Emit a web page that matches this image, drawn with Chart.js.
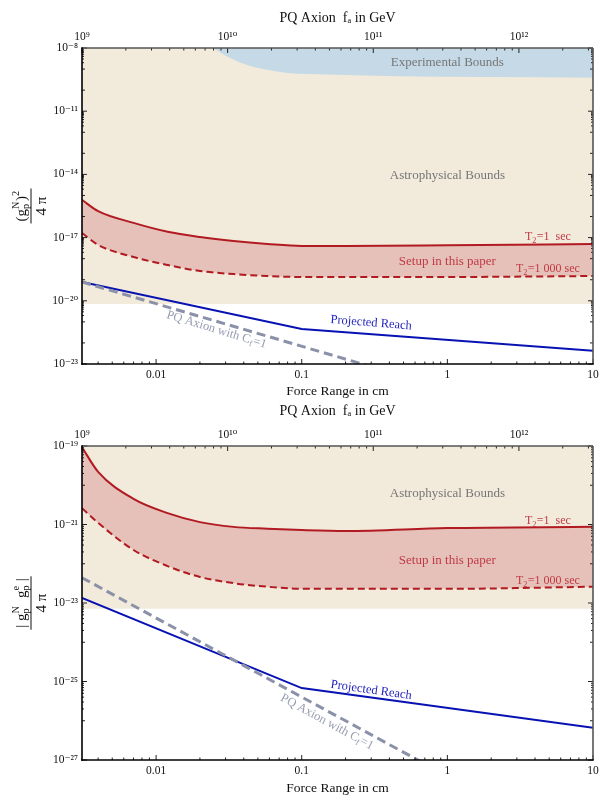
<!DOCTYPE html>
<html><head><meta charset="utf-8">
<script src="https://cdn.jsdelivr.net/npm/chart.js@4.4.1/dist/chart.umd.min.js"></script>
<style>
html,body{margin:0;padding:0;background:#fff;}
#wrap{position:relative;width:600px;height:800px;}
canvas{position:absolute;left:0;}
</style></head><body>
<div id="wrap">
<canvas id="c1" width="600" height="400" style="top:0"></canvas>
<canvas id="c2" width="600" height="400" style="top:400px"></canvas>
</div>
<script>
// ---------------- DATA ----------------
const xMin = 0.0031, xMax = 10;            // force range in cm
const faMin = 1e9, faMax = 1e9 * xMax / xMin; // PQ axion f_a in GeV (top axis)

const rangeCm = [0.0031, 0.004, 0.007, 0.012, 0.02, 0.034, 0.058, 0.1, 0.2, 1, 10];

// Top panel: (g_p^N)^2 / 4pi
const topT1 = [6.2e-16, 1.8e-16, 5.0e-17, 1.9e-17, 1.07e-17, 6.9e-18, 5.0e-18, 4.0e-18, 4.0e-18, 4.3e-18, 5.0e-18];
const topT1000 = [1.66e-17, 4.5e-18, 1.2e-18, 5.0e-19, 2.6e-19, 1.86e-19, 1.5e-19, 1.35e-19, 1.35e-19, 1.35e-19, 1.5e-19];
const topReachX = [0.0031, 0.1, 10];
const topReachY = [7.8e-20, 4.6e-22, 4.2e-23];
const topPQX = [0.0031, 1];
const topPQY = [7.8e-20, 6.6e-25];
const topExpX = [0.0246, 0.0322, 0.0442, 0.0597, 0.0805, 0.149, 0.373, 10];
const topExpY = [1e-8, 3.35e-9, 1.4e-9, 9.0e-10, 6.5e-10, 5.5e-10, 4.7e-10, 3.9e-10];
const topAstroFloor = 7e-21;

// Bottom panel: |g_p^N g_p^e| / 4pi
const botT1 = [9.3e-20, 2.2e-20, 4.5e-21, 1.95e-21, 1.15e-21, 8.7e-22, 7.8e-22, 7.2e-22, 6.8e-22, 8.1e-22, 8.7e-22];
const botT1000 = [2.6e-21, 1.1e-21, 2.24e-22, 8.7e-23, 4.6e-23, 3.2e-23, 2.6e-23, 2.3e-23, 2.3e-23, 2.3e-23, 2.6e-23];
const botReachX = [0.0031, 0.1, 10];
const botReachY = [1.35e-23, 6.8e-26, 6.6e-27];
const botPQX = [0.0031, 1];
const botPQY = [4.4e-23, 3.9e-28];
const botAstroFloor = 7.1e-24;

// Ticks
const xTickVals = [0.01, 0.1, 1, 10];
const xTickLabels = ['0.01', '0.1', '1', '10'];
const faTickVals = [1e9, 1e10, 1e11, 1e12];
const faTickLabels = ['10⁹', '10¹⁰', '10¹¹', '10¹²'];
const topYMin = 1e-23, topYMax = 1e-8;
const topYTickVals = [1e-23, 1e-20, 1e-17, 1e-14, 1e-11, 1e-8];
const topYTickLabels = ['10⁻²³', '10⁻²⁰', '10⁻¹⁷', '10⁻¹⁴', '10⁻¹¹', '10⁻⁸'];
const botYMin = 1e-27, botYMax = 1e-19;
const botYTickVals = [1e-27, 1e-25, 1e-23, 1e-21, 1e-19];
const botYTickLabels = ['10⁻²⁷', '10⁻²⁵', '10⁻²³', '10⁻²¹', '10⁻¹⁹'];

// ---------------- STYLE ----------------
const FONT = "'Liberation Serif','DejaVu Serif',serif";
const C = {
  beige: 'rgb(242,235,220)', expBlue: 'rgb(197,217,230)', band: 'rgb(229,193,185)',
  red: 'rgb(178,26,34)', blue: 'rgb(8,18,178)', gray: 'rgb(138,145,168)',
  noteGray: 'rgb(118,118,118)', noteRed: 'rgb(192,58,70)', noteBlue: 'rgb(30,30,190)', noteGrayBlue: 'rgb(150,156,176)'
};

const zip = (xs, ys) => xs.map((x, i) => ({x, y: ys[i]}));

function rich(ctx, segs, size, x, y, draw) {
  let cx = x;
  for (const s of segs) {
    if (s.t !== undefined) {
      ctx.font = `${size}px ${FONT}`;
      if (draw) ctx.fillText(s.t, cx, y);
      cx += ctx.measureText(s.t).width;
    } else {
      const ss = size * 0.68;
      ctx.font = `${ss}px ${FONT}`;
      let w = 0;
      if (s.sub !== undefined) { if (draw) ctx.fillText(s.sub, cx, y + size * 0.3); w = Math.max(w, ctx.measureText(s.sub).width); }
      if (s.sup !== undefined) { if (draw) ctx.fillText(s.sup, cx, y - size * 0.4); w = Math.max(w, ctx.measureText(s.sup).width); }
      cx += w + 0.5;
    }
  }
  return cx - x;
}

const framePlugin = {
  id: 'frameTicks',
  afterDatasetsDraw(chart) {
    const {ctx, chartArea: a} = chart;
    const sx = chart.scales.x, st = chart.scales.xTop, sy = chart.scales.y;
    ctx.save();
    ctx.strokeStyle = '#222';
    ctx.lineWidth = 1;
    const line = (x1, y1, x2, y2) => { ctx.beginPath(); ctx.moveTo(x1, y1); ctx.lineTo(x2, y2); ctx.stroke(); };
    // y ticks (left and right)
    const yMajors = sy.ticks.map(t => Math.round(Math.log10(t.value)));
    const e0 = Math.round(Math.log10(sy.min)), e1 = Math.round(Math.log10(sy.max));
    for (let e = e0; e <= e1; e++) {
      const p = sy.getPixelForValue(Math.pow(10, e));
      const len = yMajors.includes(e) ? 5 : 3;
      line(a.left, p, a.left + len, p); line(a.right, p, a.right - len, p);
      if (yMajors.includes(e + 1)) {
        for (let m = 2; m <= 9; m++) {
          const q = sy.getPixelForValue(m * Math.pow(10, e));
          line(a.left, q, a.left + 2, q); line(a.right, q, a.right - 2, q);
        }
      }
    }
    // x ticks bottom / top
    const drawX = (sc, yEdge, dir) => {
      const majors = sc.ticks.map(t => Math.round(Math.log10(t.value)));
      const f0 = Math.floor(Math.log10(sc.min)), f1 = Math.ceil(Math.log10(sc.max));
      for (let e = f0; e <= f1; e++) {
        for (let m = 1; m <= 9; m++) {
          const v = m * Math.pow(10, e);
          if (v < sc.min * 0.999 || v > sc.max * 1.001) continue;
          const p = sc.getPixelForValue(v);
          const len = (m === 1) ? (majors.includes(e) ? 5 : 4) : 2.5;
          line(p, yEdge, p, yEdge + dir * len);
        }
      }
    };
    drawX(sx, a.bottom, -1);
    drawX(st, a.top, 1);
    // frame
    ctx.lineWidth = 1.6;
    ctx.strokeStyle = '#555';
    line(a.left, a.top, a.right, a.top);
    line(a.right, a.top, a.right, a.bottom);
    ctx.strokeStyle = '#000';
    line(a.left, a.top - 0.8, a.left, a.bottom + 0.8);
    line(a.left - 0.8, a.bottom, a.right + 0.8, a.bottom);
    ctx.restore();

    // notes
    const opts = chart.config.options.plugins.notes;
    ctx.save();
    ctx.textBaseline = 'middle';
    ctx.textAlign = 'left';
    for (const n of opts.items) {
      const px = sx.getPixelForValue(n.x), py = sy.getPixelForValue(n.y);
      const w = rich(ctx, n.segs, n.size, 0, 0, false);
      ctx.save();
      ctx.translate(px, py);
      ctx.rotate((n.angle || 0) * Math.PI / 180);
      ctx.fillStyle = n.color;
      rich(ctx, n.segs, n.size, -w / 2, 0, true);
      ctx.restore();
    }
    // y axis fraction title
    const yt = opts.yTitle;
    const cy = (a.top + a.bottom) / 2, cxp = 31;
    ctx.save();
    ctx.translate(cxp, cy);
    ctx.rotate(-Math.PI / 2);
    ctx.fillStyle = '#111';
    ctx.strokeStyle = '#111';
    const nw = rich(ctx, yt.num, 15, 0, 0, false);
    const dw = rich(ctx, yt.den, 15, 0, 0, false);
    const bw = Math.max(nw, dw) + 4;
    rich(ctx, yt.num, 15, -nw / 2, -9, true);
    rich(ctx, yt.den, 15, -dw / 2, 11, true);
    ctx.lineWidth = 1;
    ctx.beginPath(); ctx.moveTo(-bw / 2, 0); ctx.lineTo(bw / 2, 0); ctx.stroke();
    ctx.restore();
    ctx.restore();
  }
};

function logAxis(pos, min, max, vals, labels, extra) {
  return Object.assign({
    type: 'logarithmic', position: pos, min, max,
    afterBuildTicks: s => { s.ticks = vals.map(v => ({value: v})); },
    grid: {display: false, drawTicks: false},
    border: {display: false},
    ticks: {autoSkip: false, maxRotation: 0, minRotation: 0, color: '#111', padding: 4,
            font: {family: FONT, size: 11.5}, callback: (v, i) => labels[i]}
  }, extra);
}

function buildChart(id, p) {
  const ds = [
    {data: zip([xMin, xMax], [p.astro, p.astro]), fill: 'end', backgroundColor: C.beige, borderWidth: 0, pointRadius: 0, order: 10},
  ];
  if (p.expX) ds.push({data: zip(p.expX, p.expY), fill: 'end', backgroundColor: C.expBlue, borderWidth: 0, pointRadius: 0, cubicInterpolationMode: 'monotone', order: 9});
  ds.push(
    {data: zip(rangeCm, p.t1), fill: '+1', backgroundColor: C.band, borderColor: C.red, borderWidth: 2, pointRadius: 0, cubicInterpolationMode: 'monotone', order: 5},
    {data: zip(rangeCm, p.t1000), fill: false, borderColor: C.red, borderWidth: 2, borderDash: [7, 4], pointRadius: 0, cubicInterpolationMode: 'monotone', order: 4},
    {data: zip(p.reachX, p.reachY), fill: false, borderColor: C.blue, borderWidth: 2, pointRadius: 0, order: 2},
    {data: zip(p.pqX, p.pqY), fill: false, borderColor: C.gray, borderWidth: 3, borderDash: [9, 5], pointRadius: 0, order: 1}
  );
  ds.forEach(d => d.clip = 0);
  const noPad = s => { s.paddingLeft = 0; s.paddingRight = 0; };
  return new Chart(document.getElementById(id), {
    type: 'line',
    data: {datasets: ds},
    plugins: [framePlugin],
    options: {
      responsive: false, animation: false, devicePixelRatio: 1,
      layout: {padding: {left: 0, right: 7, top: 0, bottom: 0}},
      plugins: {legend: {display: false}, tooltip: {enabled: false},
                notes: {items: p.notes, yTitle: p.yTitle}},
      scales: {
        x: logAxis('bottom', xMin, xMax, xTickVals, xTickLabels, {
          afterFit: s => { s.height = p.bottomH; noPad(s); },
          title: {display: true, text: 'Force Range in cm', color: '#111', font: {family: FONT, size: 13.5}, padding: {top: 0, bottom: p.botTitlePad}}
        }),
        xTop: logAxis('top', faMin, faMax, faTickVals, faTickLabels, {
          afterFit: s => { s.height = p.topH; noPad(s); },
          title: {display: true, text: 'PQ Axion  fₐ in GeV', color: '#111', font: {family: FONT, size: 14}, padding: {top: p.topTitlePad, bottom: 0}}
        }),
        y: logAxis('left', p.yMin, p.yMax, p.yVals, p.yLabels, {
          afterFit: s => { s.width = 82; s.paddingTop = 0; s.paddingBottom = 0; }
        })
      }
    }
  });
}

const topNotes = [
  {segs: [{t: 'Experimental Bounds'}], x: 1, y: 1.95e-9, color: C.noteGray, size: 13},
  {segs: [{t: 'Astrophysical Bounds'}], x: 1, y: 8.5e-15, color: C.noteGray, size: 13},
  {segs: [{t: 'T'}, {sub: '2'}, {t: '=1  sec'}], x: 4.9, y: 1.07e-17, color: C.noteRed, size: 12},
  {segs: [{t: 'Setup in this paper'}], x: 1, y: 6.9e-19, color: C.noteRed, size: 13},
  {segs: [{t: 'T'}, {sub: '2'}, {t: '=1 000 sec'}], x: 4.9, y: 3.2e-19, color: C.noteRed, size: 12},
  {segs: [{t: 'Projected Reach'}], x: 0.30, y: 8.9e-22, color: C.noteBlue, size: 12.5, angle: 4.5},
  {segs: [{t: 'PQ Axion with C'}, {sub: 'f'}, {t: '=1'}], x: 0.026, y: 4.2e-22, color: C.noteGrayBlue, size: 12.5, angle: 17}
];
const botNotes = [
  {segs: [{t: 'Astrophysical Bounds'}], x: 1, y: 6.3e-21, color: C.noteGray, size: 13},
  {segs: [{t: 'T'}, {sub: '2'}, {t: '=1  sec'}], x: 4.9, y: 1.23e-21, color: C.noteRed, size: 12},
  {segs: [{t: 'Setup in this paper'}], x: 1, y: 1.18e-22, color: C.noteRed, size: 13},
  {segs: [{t: 'T'}, {sub: '2'}, {t: '=1 000 sec'}], x: 4.9, y: 3.6e-23, color: C.noteRed, size: 12},
  {segs: [{t: 'Projected Reach'}], x: 0.30, y: 6.0e-26, color: C.noteBlue, size: 12.5, angle: 8},
  {segs: [{t: 'PQ Axion with C'}, {sub: 'f'}, {t: '=1'}], x: 0.149, y: 9.3e-27, color: C.noteGrayBlue, size: 12.5, angle: 28.5}
];

buildChart('c1', {
  astro: topAstroFloor, expX: topExpX, expY: topExpY, t1: topT1, t1000: topT1000,
  reachX: topReachX, reachY: topReachY, pqX: topPQX, pqY: topPQY,
  yMin: topYMin, yMax: topYMax, yVals: topYTickVals, yLabels: topYTickLabels,
  topH: 48, bottomH: 36, topTitlePad: 10, botTitlePad: 0,
  notes: topNotes,
  yTitle: {num: [{t: '(g'}, {sub: 'p', sup: 'N'}, {t: ')'}, {sup: '2'}], den: [{t: '4 π'}]}
});
buildChart('c2', {
  astro: botAstroFloor, t1: botT1, t1000: botT1000,
  reachX: botReachX, reachY: botReachY, pqX: botPQX, pqY: botPQY,
  yMin: botYMin, yMax: botYMax, yVals: botYTickVals, yLabels: botYTickLabels,
  topH: 46, bottomH: 40, topTitlePad: 3, botTitlePad: 3,
  notes: botNotes,
  yTitle: {num: [{t: '| g'}, {sub: 'p', sup: 'N'}, {t: '  g'}, {sub: 'p', sup: 'e'}, {t: ' |'}], den: [{t: '4 π'}]}
});
</script>
</body></html>
